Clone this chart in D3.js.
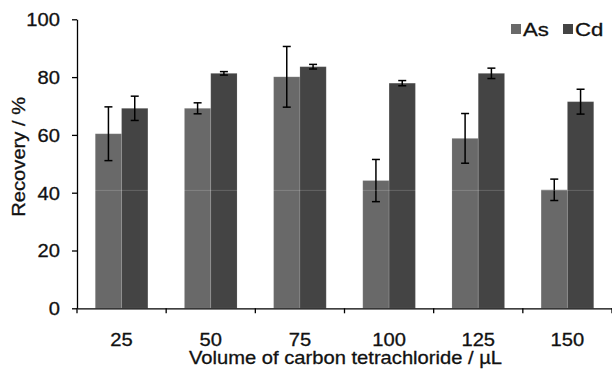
<!DOCTYPE html>
<html>
<head>
<meta charset="utf-8">
<script src="https://cdn.jsdelivr.net/npm/d3@7"></script>
<style>
  html, body { margin: 0; padding: 0; background: #fff; }
  svg { display: block; }
  text { font-family: "Liberation Sans", Arial, sans-serif; fill: #111; stroke: #111; stroke-width: 0.3px; }
</style>
</head>
<body>
<svg id="chart" width="612" height="370"></svg>
<script>
const categories = ["25", "50", "75", "100", "125", "150"];
const seriesNames = ["As", "Cd"];
const asValues = [60.4, 69.2, 80.1, 44.2, 58.8, 41.0];
const asErrors = [9.3, 1.9, 10.5, 7.3, 8.6, 3.7];
const cdValues = [69.2, 81.3, 83.6, 77.9, 81.3, 71.5];
const cdErrors = [4.2, 0.6, 0.8, 0.9, 1.8, 4.3];
const yTicks = [0, 20, 40, 60, 80, 100];
const colors = ["#696969", "#444444"];

const FS = 18, SX = 1.12;
const svg = d3.select("#chart");
const plotLeft = 77, plotRight = 612, plotTop = 19.3, plotBottom = 308.3;

const x = d3.scaleBand().domain(categories).range([plotLeft, plotRight])
  .paddingInner(0.41).paddingOuter(0.205);
const xs = d3.scaleBand().domain(seriesNames).range([0, x.bandwidth()]).padding(0);
const y = d3.scaleLinear().domain([0, 100]).range([plotBottom, plotTop]);

const rows = categories.map((c, i) => ({
  cat: c,
  items: [
    { s: "As", v: asValues[i], e: asErrors[i] },
    { s: "Cd", v: cdValues[i], e: cdErrors[i] }
  ]
}));

const color = d3.scaleOrdinal().domain(seriesNames).range(colors);

const groups = svg.append("g").selectAll("g").data(rows).join("g")
  .attr("transform", d => `translate(${x(d.cat)},0)`);

groups.selectAll("rect").data(d => d.items).join("rect")
  .attr("x", d => xs(d.s))
  .attr("width", xs.bandwidth())
  .attr("y", d => y(d.v))
  .attr("height", d => y(0) - y(d.v))
  .attr("fill", d => color(d.s))
  .attr("stroke", "rgba(255,255,255,0.12)")
  .attr("stroke-width", 1);

// faint scan line artifact
svg.append("line")
  .attr("x1", plotLeft).attr("x2", plotRight)
  .attr("y1", y(40.8)).attr("y2", y(40.8))
  .attr("stroke", "#fff").attr("stroke-opacity", 0.18).attr("stroke-width", 1);

// error bars
const eb = groups.selectAll("g.err").data(d => d.items).join("g").attr("class", "err")
  .attr("transform", d => `translate(${xs(d.s) + xs.bandwidth() / 2},0)`);
eb.append("line").attr("x1", 0).attr("x2", 0)
  .attr("y1", d => y(d.v + d.e)).attr("y2", d => y(d.v - d.e))
  .attr("stroke", "#000").attr("stroke-width", 1.5);
eb.append("line").attr("x1", -4).attr("x2", 4)
  .attr("y1", d => y(d.v + d.e)).attr("y2", d => y(d.v + d.e))
  .attr("stroke", "#000").attr("stroke-width", 1.5);
eb.append("line").attr("x1", -4).attr("x2", 4)
  .attr("y1", d => y(d.v - d.e)).attr("y2", d => y(d.v - d.e))
  .attr("stroke", "#000").attr("stroke-width", 1.5);

// y axis
const yAxis = svg.append("g").attr("transform", `translate(${plotLeft},0)`)
  .call(d3.axisLeft(y).tickValues(yTicks).tickSize(5).tickSizeOuter(0).tickPadding(12));
yAxis.selectAll("path, line").attr("stroke", "#000").attr("stroke-width", 1.3);
yAxis.selectAll("text").attr("font-size", FS).attr("font-family", "Liberation Sans, Arial, sans-serif")
  .attr("x", -17 / SX).attr("dy", "0.36em").attr("transform", `scale(${SX},1)`);

// x axis (labels at centers, ticks at category boundaries)
const xAxis = svg.append("g").attr("transform", `translate(0,${plotBottom})`)
  .call(d3.axisBottom(x).tickSize(0).tickSizeOuter(0).tickPadding(0));
xAxis.select("path").attr("stroke", "#000").attr("stroke-width", 1.3);
xAxis.selectAll("text").attr("font-size", FS).attr("font-family", "Liberation Sans, Arial, sans-serif")
  .attr("y", 37.7).attr("dy", null).attr("transform", `scale(${SX},1)`);
const bounds = d3.range(categories.length + 1).map(i => plotLeft + i * x.step());
xAxis.selectAll("line.bt").data(bounds).join("line").attr("class", "bt")
  .attr("x1", d => d).attr("x2", d => d).attr("y1", 0).attr("y2", 5)
  .attr("stroke", "#000").attr("stroke-width", 1.3);

// axis titles
svg.append("text")
  .attr("transform", `translate(${(plotLeft + plotRight) / 2 + 1},364) scale(${SX},1)`)
  .attr("text-anchor", "middle").attr("font-size", FS)
  .text("Volume of carbon tetrachloride / µL");
svg.append("text")
  .attr("transform", `translate(25,${(plotTop + plotBottom) / 2 - 7}) rotate(-90) scale(${SX},1)`)
  .attr("text-anchor", "middle").attr("font-size", FS)
  .text("Recovery / %");

// legend
const legend = svg.append("g");
const legX = [511, 563];
seriesNames.forEach((s, i) => {
  legend.append("rect").attr("x", legX[i]).attr("y", 24).attr("width", 10).attr("height", 10)
    .attr("fill", color(s));
  legend.append("text").attr("transform", `translate(${legX[i] + 12},35.5) scale(${SX * 1.1},1)`)
    .attr("font-size", FS).text(s);
});
</script>
</body>
</html>
